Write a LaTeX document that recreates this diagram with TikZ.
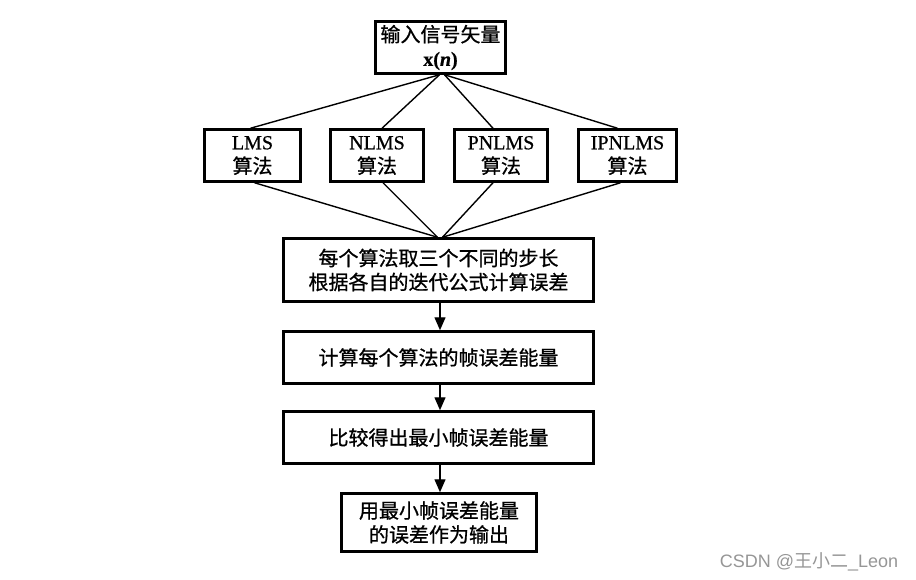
\documentclass[tikz,border=0pt]{standalone}
\usepackage{fontspec}
\setmainfont{Liberation Serif}[RawFeature={embolden=0.7}]
\newfontfamily\cjk{Noto Sans CJK SC}[RawFeature={embolden=0.8}]
\newfontfamily\wmcjk{Noto Sans CJK SC}
\newfontfamily\wmfont{Liberation Sans}
\usetikzlibrary{arrows.meta}
\definecolor{wmgray}{RGB}{150,150,150}
\begin{document}
\begin{tikzpicture}[x=1pt,y=-1pt,
  box/.style={draw, line width=2.5pt, inner sep=0pt, align=center,
    font=\fontsize{20}{24}\selectfont},
  link/.style={line width=1.4pt},
  flow/.style={line width=1.4pt, -{Triangle[length=13pt,width=11pt]}}]
\useasboundingbox[fill=white] (0,0) rectangle (916,580);

\node[box, minimum width=130pt, minimum height=52pt] (inp) at (440.5,47.5)
  {{\cjk 输入信号矢量}\\\textbf{x(\textit{n})}};

\node[box, minimum width=96pt, minimum height=52pt] (lms) at (252.5,155.5)
  {LMS\\{\cjk 算法}};
\node[box, minimum width=93pt, minimum height=52pt] (nlms) at (377,155.5)
  {NLMS\\{\cjk 算法}};
\node[box, minimum width=93pt, minimum height=52pt] (pnlms) at (501,155.5)
  {PNLMS\\{\cjk 算法}};
\node[box, minimum width=98pt, minimum height=52pt] (ipnlms) at (627.5,155.5)
  {IPNLMS\\{\cjk 算法}};

\node[box, minimum width=310pt, minimum height=63pt] (calc) at (438.5,270)
  {\cjk 每个算法取三个不同的步长\\\cjk 根据各自的迭代公式计算误差};
\node[box, minimum width=310pt, minimum height=52pt] (energy) at (438.5,357.5)
  {\cjk 计算每个算法的帧误差能量};
\node[box, minimum width=310pt, minimum height=52pt] (cmp) at (438.5,437.5)
  {\cjk 比较得出最小帧误差能量};
\node[box, minimum width=195pt, minimum height=58pt] (out) at (439,522.5)
  {\cjk 用最小帧误差能量\\\cjk 的误差作为输出};

\draw[link] ([xshift=-1pt]inp.south) -- ([xshift=-2pt]lms.north);
\draw[link] ([xshift=-1pt]inp.south) -- ([xshift=5pt]nlms.north);
\draw[link] ([xshift=4pt]inp.south) -- ([xshift=-8pt]pnlms.north);
\draw[link] ([xshift=4pt]inp.south) -- ([xshift=-10pt]ipnlms.north);

\draw[link] ([xshift=2pt]lms.south) -- ([xshift=-1pt]calc.north);
\draw[link] ([xshift=6pt]nlms.south) -- ([xshift=-1pt]calc.north);
\draw[link] ([xshift=-8pt]pnlms.south) -- ([xshift=4pt]calc.north);
\draw[link] ([xshift=-7pt]ipnlms.south) -- ([xshift=4pt]calc.north);

\draw[flow] ([xshift=1.5pt]calc.south) -- ([xshift=1.5pt]energy.north);
\draw[flow] ([xshift=1.5pt]energy.south) -- ([xshift=1.5pt]cmp.north);
\draw[flow] ([xshift=1.5pt]cmp.south) -- ([xshift=1pt]out.north);

\node[text=wmgray, font=\fontsize{18}{20}\selectfont\wmfont, inner sep=0pt] (wm) at (809,562)
  {CSDN @{\wmcjk 王小二}\_Leon};
\end{tikzpicture}
\end{document}
